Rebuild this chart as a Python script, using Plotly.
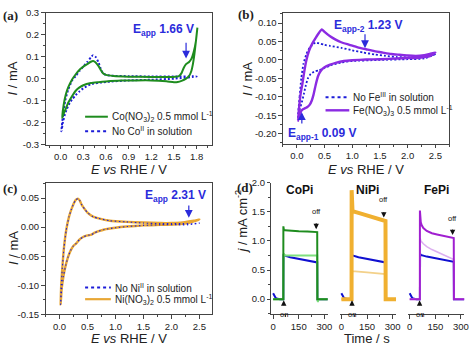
import plotly.graph_objects as go

W, H = 474, 350
FONT = "Liberation Sans, Arial, sans-serif"
SERIF = "Liberation Serif, Times New Roman, serif"
LC = "#444444"
TXT = "#222222"
ABLUE = "#2b2bdb"

# ---------------- data ----------------
# (a) Co
a_co_E = [0.02, 0.04, 0.07, 0.10, 0.15, 0.20, 0.26, 0.30, 0.35, 0.40, 0.43, 0.46, 0.50, 0.53, 0.56, 0.60, 0.70, 0.90, 1.20, 1.50, 1.56, 1.60, 1.63, 1.66, 1.70, 1.73, 1.76, 1.79, 1.81,
          1.79, 1.77, 1.75, 1.73, 1.70, 1.66, 1.60, 1.55, 1.50, 1.40, 1.20, 1.00, 0.80, 0.60, 0.50, 0.40, 0.30, 0.25, 0.20, 0.15, 0.10, 0.07, 0.04, 0.02]
a_co_I = [-0.18, -0.12, -0.07, -0.04, -0.005, 0.02, 0.044, 0.055, 0.066, 0.077, 0.080, 0.075, 0.058, 0.040, 0.025, 0.017, 0.012, 0.009, 0.008, 0.008, 0.010, 0.025, 0.050, 0.066, 0.076, 0.090, 0.120, 0.170, 0.232,
          0.17, 0.11, 0.065, 0.035, 0.012, 0.0, -0.010, -0.015, -0.016, -0.012, -0.008, -0.008, -0.009, -0.013, -0.016, -0.020, -0.030, -0.040, -0.055, -0.080, -0.110, -0.135, -0.160, -0.18]
a_no_E = [0.01, 0.03, 0.06, 0.10, 0.15, 0.20, 0.25, 0.30, 0.35, 0.40, 0.43, 0.46, 0.50, 0.53, 0.56, 0.60, 0.70, 0.90, 1.20, 1.50, 1.80,
          1.50, 1.20, 0.90, 0.60, 0.50, 0.40, 0.30, 0.25, 0.20, 0.15, 0.12, 0.08, 0.05, 0.03, 0.01]
a_no_I = [-0.24, -0.17, -0.10, -0.05, -0.01, 0.012, 0.035, 0.055, 0.075, 0.097, 0.107, 0.100, 0.075, 0.045, 0.025, 0.017, 0.013, 0.011, 0.010, 0.010, 0.010,
          0.0, -0.005, -0.008, -0.015, -0.019, -0.025, -0.044, -0.058, -0.075, -0.095, -0.110, -0.140, -0.170, -0.200, -0.24]

# (b) Fe
b_fe_E = [0.02, 0.04, 0.07, 0.10, 0.13, 0.17, 0.22, 0.28, 0.34, 0.40, 0.45, 0.50, 0.60, 0.70, 0.80, 0.95, 1.10, 1.25, 1.40, 1.55, 1.70, 1.85, 2.00, 2.15, 2.30, 2.40, 2.50,
          2.40, 2.20, 2.00, 1.80, 1.50, 1.25, 1.00, 0.85, 0.70, 0.60, 0.50, 0.43, 0.38, 0.34, 0.30, 0.27, 0.23, 0.19, 0.15, 0.11, 0.08, 0.05, 0.03, 0.02]
b_fe_I = [-0.165, -0.13, -0.09, -0.065, -0.035, -0.002, 0.025, 0.045, 0.060, 0.074, 0.083, 0.076, 0.064, 0.055, 0.048, 0.041, 0.034, 0.029, 0.024, 0.020, 0.016, 0.014, 0.012, 0.011, 0.013, 0.016, 0.020,
          0.010, 0.006, 0.005, 0.004, 0.002, 0.001, -0.001, -0.003, -0.008, -0.013, -0.020, -0.030, -0.045, -0.068, -0.095, -0.110, -0.122, -0.128, -0.131, -0.134, -0.138, -0.150, -0.158, -0.165]
b_no_E = [0.02, 0.05, 0.08, 0.12, 0.17, 0.23, 0.30, 0.34, 0.40, 0.50, 0.60, 0.80, 1.00, 1.20, 1.40, 1.60, 1.80, 2.00, 2.20, 2.40, 2.50,
          2.30, 2.00, 1.50, 1.00, 0.80, 0.60, 0.50, 0.40, 0.31, 0.25, 0.20, 0.16, 0.13, 0.09, 0.05, 0.02]
b_no_I = [-0.155, -0.10, -0.05, -0.01, 0.015, 0.033, 0.044, 0.047, 0.045, 0.041, 0.038, 0.033, 0.026, 0.020, 0.015, 0.011, 0.008, 0.007, 0.007, 0.011, 0.016,
          0.004, 0.002, 0.0, -0.003, -0.007, -0.015, -0.022, -0.028, -0.032, -0.038, -0.050, -0.070, -0.090, -0.115, -0.135, -0.155]

# (c) Ni
c_ni_E = [0.02, 0.03, 0.05, 0.08, 0.12, 0.17, 0.21, 0.25, 0.29, 0.33, 0.36, 0.40, 0.45, 0.50, 0.60, 0.70, 0.90, 1.20, 1.50, 1.80, 2.00, 2.20, 2.40, 2.50,
          2.30, 2.10, 1.80, 1.50, 1.20, 1.00, 0.80, 0.70, 0.62, 0.57, 0.52, 0.47, 0.42, 0.36, 0.30, 0.25, 0.20, 0.15, 0.10, 0.07, 0.04, 0.02]
c_ni_I = [-0.133, -0.10, -0.07, -0.035, -0.005, 0.018, 0.030, 0.040, 0.047, 0.049, 0.046, 0.038, 0.031, 0.025, 0.018, 0.015, 0.011, 0.009, 0.008, 0.007, 0.007, 0.008, 0.011, 0.013,
          0.007, 0.005, 0.004, 0.003, 0.001, -0.001, -0.004, -0.007, -0.010, -0.013, -0.014, -0.015, -0.017, -0.021, -0.028, -0.032, -0.040, -0.052, -0.070, -0.085, -0.105, -0.133]
c_no_E = [0.02, 0.03, 0.05, 0.08, 0.12, 0.17, 0.21, 0.25, 0.29, 0.33, 0.36, 0.40, 0.45, 0.50, 0.60, 0.70, 0.90, 1.20, 1.50, 1.80, 2.00, 2.20, 2.40, 2.50,
          2.30, 2.10, 1.80, 1.50, 1.20, 1.00, 0.80, 0.70, 0.62, 0.57, 0.52, 0.47, 0.42, 0.36, 0.30, 0.25, 0.20, 0.15, 0.10, 0.07, 0.04, 0.02]
c_no_I = [-0.133, -0.10, -0.07, -0.035, -0.005, 0.018, 0.030, 0.040, 0.047, 0.049, 0.046, 0.038, 0.031, 0.025, 0.018, 0.015, 0.011, 0.009, 0.007, 0.006, 0.006, 0.006, 0.006, 0.007,
          0.004, 0.004, 0.004, 0.003, 0.001, -0.001, -0.004, -0.007, -0.010, -0.013, -0.014, -0.015, -0.017, -0.021, -0.028, -0.032, -0.040, -0.052, -0.070, -0.085, -0.105, -0.133]

# (d) chronoamperometry
d_blue_t = [0, 3, 6, 10, 15, 20, 30, 40, 60, 61, 65, 100, 150, 200, 258, 259, 320]
d_blue_co = [0.10, 0.08, 0.055, 0.035, 0.02, 0.01, 0.003, 0.0, 0.0, 0.77, 0.75, 0.72, 0.69, 0.66, 0.63, 0.0, 0.0]
d_blue_ni = [0.10, 0.08, 0.055, 0.035, 0.02, 0.01, 0.003, 0.0, 0.0, 0.77, 0.75, 0.72, 0.69, 0.66, 0.63, 0.0, 0.0]
d_blue_fe = [0.10, 0.08, 0.055, 0.035, 0.02, 0.01, 0.003, 0.0, 0.0, 0.78, 0.76, 0.73, 0.70, 0.67, 0.64, 0.0, 0.0]

d_co_t = [0, 59.5, 60, 63, 70, 100, 150, 200, 258, 259, 320]
d_co_j = [0.0, 0.0, 1.25, 1.19, 1.18, 1.17, 1.165, 1.16, 1.15, 0.0, 0.0]
d_coL_t = [0, 60, 61, 64, 70, 150, 258, 259, 262, 264, 320]
d_coL_j = [0.0, 0.0, 0.78, 0.76, 0.75, 0.75, 0.75, 0.0, -0.05, 0.0, 0.0]

d_ni_t = [0, 59.5, 60, 61, 63, 65, 100, 150, 200, 258, 259, 320]
d_ni_j = [0.0, 0.0, 1.87, 1.60, 1.53, 1.51, 1.48, 1.43, 1.38, 1.34, 0.0, 0.0]
d_niL_t = [0, 60, 61, 65, 150, 258, 259, 320]
d_niL_j = [0.0, 0.0, 0.49, 0.48, 0.46, 0.43, 0.0, 0.0]

d_fe_t = [0, 59.5, 60, 62, 65, 70, 80, 100, 130, 160, 200, 230, 258, 259, 320]
d_fe_j = [0.0, 0.0, 1.52, 1.40, 1.32, 1.27, 1.22, 1.17, 1.13, 1.11, 1.09, 1.07, 1.05, 0.0, 0.0]
d_feL_t = [0, 60, 61, 65, 80, 100, 130, 160, 200, 230, 258, 259, 320]
d_feL_j = [0.0, 0.0, 1.05, 1.00, 0.95, 0.90, 0.85, 0.81, 0.76, 0.72, 0.68, 0.0, 0.0]

# ticks
a_xt = [0.0, 0.3, 0.6, 0.9, 1.2, 1.5, 1.8]
a_xl = ["0.0", "0.3", "0.6", "0.9", "1.2", "1.5", "1.8"]
a_yt = [-0.3, -0.2, -0.1, 0.0, 0.1, 0.2, 0.3]
a_yl = ["-0.3", "-0.2", "-0.1", "0.0", "0.1", "0.2", "0.3"]
bc_xt = [0.0, 0.5, 1.0, 1.5, 2.0, 2.5]
bc_xl = ["0.0", "0.5", "1.0", "1.5", "2.0", "2.5"]
b_yt = [-0.20, -0.15, -0.10, -0.05, 0.0, 0.05, 0.10]
b_yl = ["-0.20", "-0.15", "-0.10", "-0.05", "0.00", "0.05", "0.10"]
c_yt = [-0.15, -0.10, -0.05, 0.0, 0.05]
c_yl = ["-0.15", "-0.10", "-0.05", "0.00", "0.05"]
d_xt = [0, 150, 300]
d_xl = ["0", "150", "300"]
d_yt = [0.0, 0.5, 1.0, 1.5, 2.0]
d_yl = ["0.0", "0.5", "1.0", "1.5", "2.0"]

# ---------------- helpers ----------------
def px(x):
    return x / W

def py(y):
    return 1 - y / H

def axis(domain, rng, tv, tt, mdt, m0, anchor, mirror=True, showline=True, labels=True, visible=True):
    return dict(domain=domain, range=rng, tickmode="array", tickvals=tv, ticktext=tt,
                ticks="outside", ticklen=3.5, tickwidth=1, tickcolor=LC,
                showline=showline, linecolor=LC, linewidth=1, mirror=mirror,
                showgrid=False, zeroline=False, anchor=anchor, showticklabels=labels,
                visible=visible, ticklabelstandoff=0,
                tickfont=dict(family=FONT, size=9.5, color=TXT),
                minor=dict(ticks="outside", ticklen=2, tickwidth=1, tickcolor=LC,
                           tickmode="linear", tick0=m0, dtick=mdt, showgrid=False))

def line(x, y, xa, ya, color, width=2, dash=None):
    return go.Scatter(x=x, y=y, xaxis=xa, yaxis=ya, mode="lines", hoverinfo="skip",
                      showlegend=False,
                      line=dict(color=color, width=width, dash=dash, shape="spline", smoothing=0.5))

def sline(x, y, xa, ya, color, width=2):
    return go.Scatter(x=x, y=y, xaxis=xa, yaxis=ya, mode="lines", hoverinfo="skip",
                      showlegend=False, line=dict(color=color, width=width))

GREEN = "#1e8c1e"
BLUE = "#1c1cd8"
PURPLE = "#8B2BE2"
ORANGE = "#e8a735"
DOT = "2px,2px"

fig = go.Figure()
fig.add_trace(line(a_no_E, a_no_I, "x", "y", BLUE, 2, DOT))
fig.add_trace(line(a_co_E, a_co_I, "x", "y", GREEN, 2))
fig.add_trace(line(b_no_E, b_no_I, "x2", "y2", BLUE, 1.8, DOT))
fig.add_trace(line(b_fe_E, b_fe_I, "x2", "y2", PURPLE, 2.4))
fig.add_trace(line(c_ni_E, c_ni_I, "x3", "y3", ORANGE, 2.4))
fig.add_trace(line(c_no_E, c_no_I, "x3", "y3", BLUE, 1.1, "1.5px,2.5px"))

DGREEN = "#1e8c1e"; LGREEN = "#7fe07f"; DBLUE = "#1010d0"
DORANGE = "#f0b030"; LORANGE = "#f3d18a"; DPURPLE = "#a01fd0"; LPURPLE = "#dcb0f0"
fig.add_trace(sline(d_blue_t, d_blue_co, "x4", "y4", DBLUE, 2))
fig.add_trace(sline(d_coL_t, d_coL_j, "x4", "y4", LGREEN, 2))
fig.add_trace(sline(d_co_t, d_co_j, "x4", "y4", DGREEN, 2))
fig.add_trace(sline(d_blue_t, d_blue_ni, "x5", "y5", DBLUE, 2))
fig.add_trace(sline(d_niL_t, d_niL_j, "x5", "y5", LORANGE, 1.6))
fig.add_trace(sline(d_ni_t, d_ni_j, "x5", "y5", DORANGE, 4))
fig.add_trace(sline(d_blue_t, d_blue_fe, "x6", "y6", DBLUE, 2))
fig.add_trace(sline(d_feL_t, d_feL_j, "x6", "y6", LPURPLE, 1.6))
fig.add_trace(sline(d_fe_t, d_fe_j, "x6", "y6", DPURPLE, 2))

# domains (paper)
dA_x = [px(45), px(213)]; dA_y = [py(143), py(7)]
dB_x = [px(285), px(453)]; dB_y = [py(142), py(7)]
dC_x = [px(45), px(213)]; dC_y = [py(318.3), py(182.3)]
dD_y = [py(318.3), py(182.3)]
dD1 = [px(273.3), px(330.3)]
dD2 = [px(342.3), px(399.3)]
dD3 = [px(411.3), px(468.3)]

fig.update_layout(
    width=W, height=H, margin=dict(l=0, r=0, t=0, b=0),
    paper_bgcolor="white", plot_bgcolor="white", showlegend=False,
    font=dict(family=FONT, color=TXT),
    xaxis=axis(dA_x, [-0.2, 2.0], a_xt, a_xl, 0.15, 0, "y"),
    yaxis=axis(dA_y, [-0.3, 0.3], a_yt, a_yl, 0.05, 0, "x"),
    xaxis2=axis(dB_x, [-0.25, 2.75], bc_xt, bc_xl, 0.25, 0, "y2"),
    yaxis2=axis(dB_y, [-0.227, 0.128], b_yt, b_yl, 0.025, 0, "x2"),
    xaxis3=axis(dC_x, [-0.25, 2.72], bc_xt, bc_xl, 0.25, 0, "y3"),
    yaxis3=axis(dC_y, [-0.15, 0.0767], c_yt, c_yl, 0.025, 0, "x3"),
    xaxis4=axis(dD1, [-10, 320], d_xt, d_xl, 75, 0, "y4", mirror=False),
    yaxis4=axis(dD_y, [-0.26, 2.0], d_yt, d_yl, 0.25, 0, "x4", mirror=False),
    xaxis5=axis(dD2, [-10, 320], d_xt, d_xl, 75, 0, "y5", mirror=False),
    yaxis5=axis(dD_y, [-0.26, 2.0], d_yt, d_yl, 0.25, 0, "x5", visible=False),
    xaxis6=axis(dD3, [-10, 320], d_xt, d_xl, 75, 0, "y6", mirror=False),
    yaxis6=axis(dD_y, [-0.26, 2.0], d_yt, d_yl, 0.25, 0, "x6", visible=False),
)

ann = []
shapes = []

def ptext(x, y, text, size, xanchor="center", yanchor="middle", angle=0, color=TXT, family=FONT):
    ann.append(dict(x=px(x), y=py(y), xref="paper", yref="paper", text=text, showarrow=False,
                    xanchor=xanchor, yanchor=yanchor, textangle=angle,
                    font=dict(family=family, size=size, color=color)))

# panel labels
ptext(0, 10, "<b>(a)</b>", 13, "left", family=SERIF)
ptext(237, 9, "<b>(b)</b>", 13, "left", family=SERIF)
ptext(0, 188, "<b>(c)</b>", 13, "left", family=SERIF)
ptext(236, 187, "<b>(d)</b>", 13, "left", family=SERIF)

# axis titles
ptext(12, 75, "<i>I</i> / mA", 13, angle=-90)
ptext(129, 168.5, "<i>E vs</i> RHE / V", 13)
ptext(249, 75, "<i>I</i> / mA", 13, angle=-90)
ptext(369, 168.5, "<i>E vs</i> RHE / V", 13)
ptext(12, 250, "<i>I</i> / mA", 13, angle=-90)
ptext(129, 343, "<i>E vs</i> RHE / V", 13)
ptext(243, 222, "<i>j</i> / mA cm<sup>-2</sup>", 13, angle=-90)
ptext(370, 343, "Time / s", 13)

# legends
def leg(x0, x1, y, color, width, dash, text, tx):
    shapes.append(dict(type="line", xref="paper", yref="paper", x0=px(x0), x1=px(x1), y0=py(y), y1=py(y),
                       line=dict(color=color, width=width, dash=dash)))
    ptext(tx, y, text, 10, "left")

leg(85, 108, 114.3, GREEN, 2, None, "Co(NO<sub>3</sub>)<sub>2</sub> 0.5 mmol L<sup>-1</sup>", 110)
leg(85, 108, 129.3, BLUE, 2, "dot", "No Co<sup>II</sup> in solution", 110)
leg(328, 352, 94.3, BLUE, 2, "dot", "No Fe<sup>III</sup> in solution", 354)
leg(328, 352, 107.7, PURPLE, 2.4, None, "Fe(NO<sub>3</sub>)<sub>3</sub> 0.5 mmol L<sup>-1</sup>", 354)
leg(85, 111, 290.7, BLUE, 2, "dot", "No Ni<sup>II</sup> in solution", 113)
leg(85, 111, 302.7, ORANGE, 2.2, None, "Ni(NO<sub>3</sub>)<sub>2</sub> 0.5 mmol L<sup>-1</sup>", 113)

# E_app annotations
def arrow(xa, ya, x, y, ax, ay, color, width=1.2, size=1.3):
    ann.append(dict(x=x, y=y, ax=ax, ay=ay, xref=xa, yref=ya, axref=xa, ayref=ya, text="",
                    showarrow=True, arrowhead=2, arrowsize=size, arrowwidth=width, arrowcolor=color))

def dtext(xa, ya, x, y, text, size, color, xanchor="center", yanchor="middle"):
    ann.append(dict(x=x, y=y, xref=xa, yref=ya, text=text, showarrow=False, xanchor=xanchor,
                    yanchor=yanchor, font=dict(family=FONT, size=size, color=color)))

dtext("x", "y", 1.36, 0.22, "<b>E<sub>app</sub> 1.66 V</b>", 12, ABLUE)
arrow("x", "y", 1.66, 0.092, 1.66, 0.17, ABLUE)
dtext("x2", "y2", 1.29, 0.092, "<b>E<sub>app-2</sub> 1.23 V</b>", 12, ABLUE)
arrow("x2", "y2", 1.23, 0.032, 1.23, 0.074, ABLUE)
dtext("x2", "y2", 0.45, -0.20, "<b>E<sub>app-1</sub> 0.09 V</b>", 12, ABLUE)
arrow("x2", "y2", 0.09, -0.142, 0.09, -0.177, ABLUE)
dtext("x3", "y3", 2.08, 0.053, "<b>E<sub>app</sub> 2.31 V</b>", 12, ABLUE)
arrow("x3", "y3", 2.31, 0.016, 2.31, 0.040, ABLUE)

# (d) labels
for xa, ya, name in [("x4", "y4", "CoPi"), ("x5", "y5", "NiPi"), ("x6", "y6", "FePi")]:
    ann.append(dict(x=0.5, y=1.88, xref=xa + " domain", yref=ya, text="<b>" + name + "</b>", showarrow=False,
                    font=dict(family=FONT, size=12, color="#111")))

off_pos = [("x4", "y4", 252, 1.40, 1.33, 1.20), ("x5", "y5", 248, 1.59, 1.52, 1.40), ("x6", "y6", 251, 1.28, 1.22, 1.10)]
for xa, ya, t, ty, a0, a1 in off_pos:
    dtext(xa, ya, t, ty, "off", 7.5, "#111", yanchor="bottom")
    arrow(xa, ya, t, a1, t, a0, "#111", 0.9, 1.2)
on_pos = [("x4", "y4", 62), ("x5", "y5", 62), ("x6", "y6", 58)]
for xa, ya, t in on_pos:
    dtext(xa, ya, t, -0.16, "on", 7.5, "#111", yanchor="top")
    arrow(xa, ya, t, -0.02, t, -0.13, "#111", 0.9, 1.2)

fig.update_layout(annotations=ann, shapes=shapes)
fig.write_html("out.html")
